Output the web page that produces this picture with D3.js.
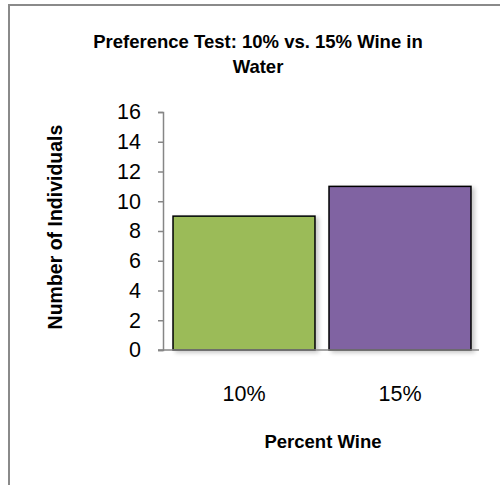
<!DOCTYPE html>
<html>
<head>
<meta charset="utf-8">
<script src="https://cdn.jsdelivr.net/npm/d3@7/dist/d3.min.js"></script>
<style>
  html, body { margin: 0; padding: 0; background: #fff; overflow: hidden; }
  svg { display: block; }
</style>
</head>
<body>
<svg id="chart" width="500" height="485"></svg>
<script>
// Preference test results
const categories = ["10%", "15%"];
const counts = [9, 11];
const barColors = ["#9BBB59", "#8064A2"];
const yTicks = [0, 2, 4, 6, 8, 10, 12, 14, 16];

const titleLines = ["Preference Test: 10% vs. 15% Wine in", "Water"];
const xTitle = "Percent Wine";
const yTitle = "Number of Individuals";

const svg = d3.select("#chart");
const font = "'Liberation Sans', Arial, sans-serif";

// chart area frame
svg.append("rect")
  .attr("x", 9).attr("y", 5)
  .attr("width", 600).attr("height", 600)
  .attr("fill", "#fff")
  .attr("stroke", "#8a8a8a")
  .attr("stroke-width", 2);

const y = d3.scaleLinear().domain([0, 16]).range([350, 112]);
const x = d3.scaleBand().domain(categories)
  .range([166, 478])
  .paddingInner(0.09)
  .paddingOuter(0.045);

const defs = svg.append("defs");
const f = defs.append("filter").attr("id", "shadow")
  .attr("x", "-10%").attr("y", "-10%").attr("width", "130%").attr("height", "130%");
f.append("feDropShadow").attr("dx", 3).attr("dy", 2).attr("stdDeviation", 2)
  .attr("flood-color", "#000").attr("flood-opacity", 0.22);

// bars
svg.append("g").selectAll("rect")
  .data(categories)
  .join("rect")
  .attr("x", d => x(d))
  .attr("y", (d, i) => y(counts[i]))
  .attr("width", x.bandwidth())
  .attr("height", (d, i) => y(0) - y(counts[i]))
  .attr("fill", (d, i) => barColors[i])
  .attr("stroke", "#000")
  .attr("stroke-width", 1.5)
  .attr("filter", "url(#shadow)");

// y axis
const yAxis = d3.axisLeft(y).tickValues(yTicks).tickSize(5).tickPadding(17);
const gy = svg.append("g").attr("transform", "translate(163,0)").call(yAxis);
gy.select(".domain").attr("stroke", "#868686").attr("stroke-width", 1.5);
gy.selectAll(".tick line").attr("stroke", "#868686").attr("stroke-width", 1.5);
gy.selectAll(".tick text")
  .attr("font-family", font).attr("font-size", 21.5).attr("fill", "#000");

// x axis baseline
svg.append("line")
  .attr("x1", 158).attr("x2", 479)
  .attr("y1", y(0)).attr("y2", y(0))
  .attr("stroke", "#868686").attr("stroke-width", 1.5);

// category labels
svg.append("g").selectAll("text")
  .data(categories)
  .join("text")
  .attr("x", d => x(d) + x.bandwidth() / 2)
  .attr("y", 401)
  .attr("text-anchor", "middle")
  .attr("font-family", font).attr("font-size", 21.5)
  .text(d => d);

// titles
svg.append("g").selectAll("text")
  .data(titleLines)
  .join("text")
  .attr("x", 258)
  .attr("y", (d, i) => 48 + i * 25)
  .attr("text-anchor", "middle")
  .attr("font-family", font).attr("font-size", 18.5).attr("font-weight", "bold")
  .text(d => d);

svg.append("text")
  .attr("x", 323).attr("y", 448)
  .attr("text-anchor", "middle")
  .attr("font-family", font).attr("font-size", 18.5).attr("font-weight", "bold")
  .text(xTitle);

svg.append("text")
  .attr("transform", "translate(62,227) rotate(-90)")
  .attr("text-anchor", "middle")
  .attr("font-family", font).attr("font-size", 19.5).attr("font-weight", "bold")
  .text(yTitle);
</script>
</body>
</html>
